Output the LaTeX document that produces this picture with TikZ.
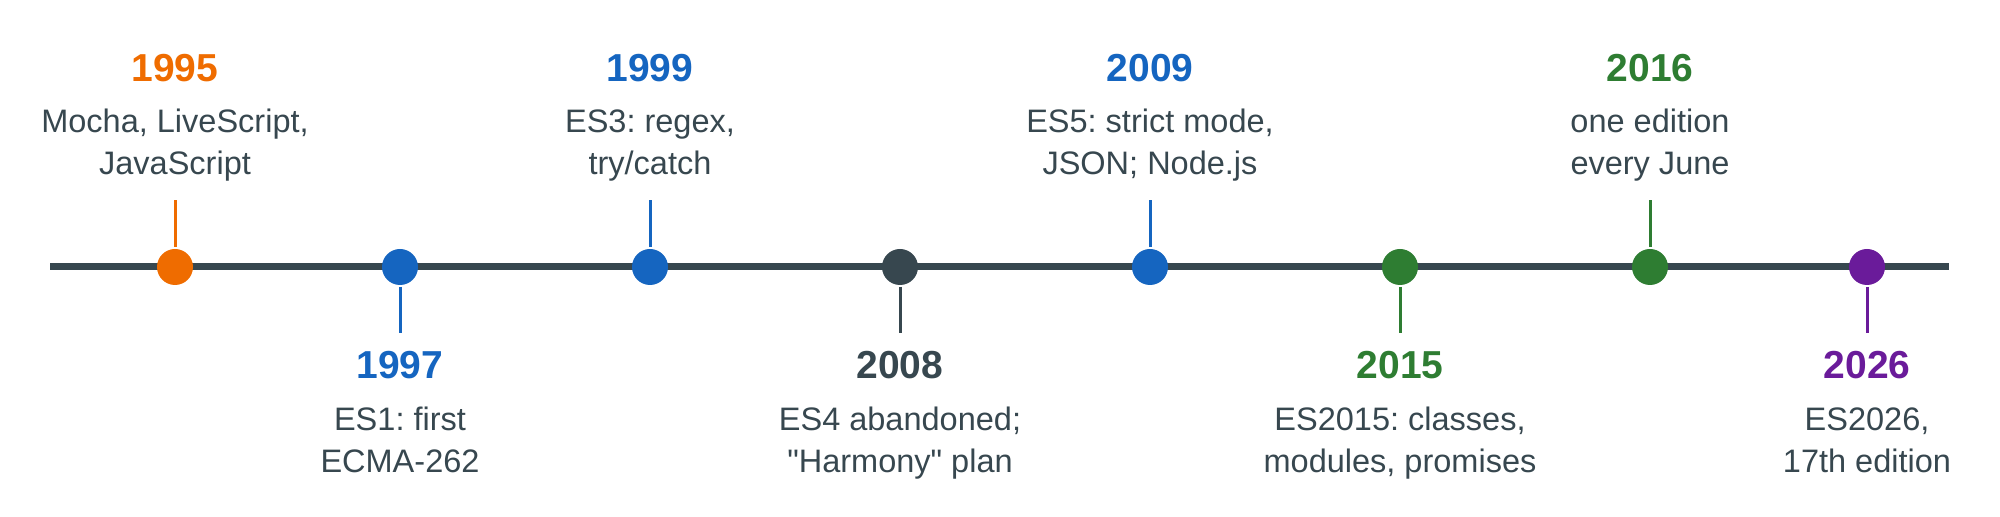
\documentclass[tikz,border=0pt]{standalone}
\usepackage{fontspec}
\setmainfont{Liberation Sans}[Ligatures=TeXOff]
\usepackage{tikz}
\usetikzlibrary{arrows,calc,positioning}
\usepackage{xcolor}
\definecolor{esorange}{HTML}{EF6C00}
\definecolor{esblue}{HTML}{1565C0}
\definecolor{esdark}{HTML}{37474F}
\definecolor{esgreen}{HTML}{2E7D32}
\definecolor{espurple}{HTML}{6A1B9A}
\tikzset{
	axisline/.style = {draw=esdark, line width=0.07cm},
	stemline/.style = {draw, line width=0.03cm},
}
\frenchspacing
\begin{document}
\begin{tikzpicture}[
	dotnode/.style={circle, fill=#1, inner sep=0pt, minimum size=3.6mm, outer sep=0.2mm},
	yearnode/.style={text=#1, font=\fontsize{11.1}{13}\selectfont\bfseries, anchor=base, inner sep=0pt},
	descnode/.style={text=esdark, font=\fontsize{9.25}{12.2}\selectfont\frenchspacing, align=center, anchor=base, inner sep=0pt},
	]
	\useasboundingbox (0,-2.50) rectangle (20,2.67);
	%Nodes
	\coordinate (start) at (0.50,0);
	\coordinate (end) at (19.49,0);
	\draw[axisline] (start) -- (end);
	\node[dotnode=esorange]   (d1995) at (1.75,0) {};
	\node[dotnode=esblue]     (d1997) at (4.00,0) {};
	\node[dotnode=esblue]     (d1999) at (6.50,0) {};
	\node[dotnode=esdark]     (d2008) at (9.00,0) {};
	\node[dotnode=esblue]     (d2009) at (11.50,0) {};
	\node[dotnode=esgreen]    (d2015) at (14.00,0) {};
	\node[dotnode=esgreen]    (d2016) at (16.50,0) {};
	\node[dotnode=espurple]   (d2026) at (18.67,0) {};
	\coordinate (s1995) at (1.75,0.67);
	\coordinate (s1997) at (4.00,-0.66);
	\coordinate (s1999) at (6.50,0.67);
	\coordinate (s2008) at (9.00,-0.66);
	\coordinate (s2009) at (11.50,0.67);
	\coordinate (s2015) at (14.00,-0.66);
	\coordinate (s2016) at (16.50,0.67);
	\coordinate (s2026) at (18.67,-0.66);
	\node[yearnode=esorange]  (y1995) at (1.75,1.85)   {1995};
	\node[descnode]           (t1995) at (1.75,0.92)   {Mocha, LiveScript,\\JavaScript};
	\node[yearnode=esblue]    (y1997) at (4.00,-1.12)  {1997};
	\node[descnode]           (t1997) at (4.00,-2.06)  {ES1: first\\ECMA-262};
	\node[yearnode=esblue]    (y1999) at (6.50,1.85)   {1999};
	\node[descnode]           (t1999) at (6.50,0.92)   {ES3: regex,\\try/catch};
	\node[yearnode=esdark]    (y2008) at (9.00,-1.12)  {2008};
	\node[descnode]           (t2008) at (9.00,-2.06)  {ES4 abandoned;\\"Harmony" plan};
	\node[yearnode=esblue]    (y2009) at (11.50,1.85)  {2009};
	\node[descnode]           (t2009) at (11.50,0.92)  {ES5: strict mode,\\JSON; Node.js};
	\node[yearnode=esgreen]   (y2015) at (14.00,-1.12) {2015};
	\node[descnode]           (t2015) at (14.00,-2.06) {ES2015: classes,\\modules, promises};
	\node[yearnode=esgreen]   (y2016) at (16.50,1.85)  {2016};
	\node[descnode]           (t2016) at (16.50,0.92)  {one edition\\every June};
	\node[yearnode=espurple]  (y2026) at (18.67,-1.12) {2026};
	\node[descnode]           (t2026) at (18.67,-2.06) {ES2026,\\17th edition};
	%Lines
	\draw[stemline, esorange] (d1995) -- (s1995);
	\draw[stemline, esblue]   (d1997) -- (s1997);
	\draw[stemline, esblue]   (d1999) -- (s1999);
	\draw[stemline, esdark]   (d2008) -- (s2008);
	\draw[stemline, esblue]   (d2009) -- (s2009);
	\draw[stemline, esgreen]  (d2015) -- (s2015);
	\draw[stemline, esgreen]  (d2016) -- (s2016);
	\draw[stemline, espurple] (d2026) -- (s2026);
\end{tikzpicture}
\end{document}
